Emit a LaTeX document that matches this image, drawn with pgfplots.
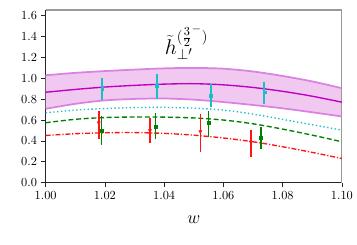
\documentclass[border=0pt]{standalone}
\usepackage{pgfplots}
\pgfplotsset{compat=1.18}
\usepackage{pgfplotstable}
\usepgfplotslibrary{fillbetween}
\definecolor{bandfill}{RGB}{241,200,240}
\definecolor{bandedge}{RGB}{214,120,224}
\definecolor{central}{RGB}{190,0,190}
\definecolor{mycyan}{RGB}{25,190,200}
\definecolor{mygreen}{RGB}{0,128,0}
\definecolor{myred}{RGB}{255,20,20}

\pgfplotstableread{
x y
1.00 0.866
1.01 0.893
1.02 0.916
1.03 0.932
1.04 0.944
1.05 0.948
1.06 0.937
1.07 0.912
1.08 0.875
1.09 0.828
1.10 0.771
}\tabcentral
\pgfplotstableread{
x y
1.00 1.029
1.01 1.052
1.02 1.069
1.03 1.083
1.04 1.095
1.05 1.099
1.06 1.092
1.07 1.065
1.08 1.022
1.09 0.970
1.10 0.905
}\tabupper
\pgfplotstableread{
x y
1.00 0.707
1.01 0.755
1.02 0.788
1.03 0.802
1.04 0.806
1.05 0.795
1.06 0.772
1.07 0.744
1.08 0.712
1.09 0.674
1.10 0.634
}\tablower
\pgfplotstableread{
x y
1.00 0.669
1.01 0.695
1.02 0.710
1.03 0.719
1.04 0.721
1.05 0.714
1.06 0.695
1.07 0.657
1.08 0.606
1.09 0.555
1.10 0.503
}\tabcyanline
\pgfplotstableread{
x y
1.00 0.574
1.01 0.607
1.02 0.624
1.03 0.629
1.04 0.628
1.05 0.620
1.06 0.600
1.07 0.564
1.08 0.513
1.09 0.455
1.10 0.392
}\tabgreenline
\pgfplotstableread{
x y
1.00 0.452
1.01 0.469
1.02 0.478
1.03 0.480
1.04 0.472
1.05 0.455
1.06 0.428
1.07 0.392
1.08 0.344
1.09 0.290
1.10 0.232
}\tabredline
\pgfplotstableread{
x y ep em
1.0191 0.902 0.102 0.112
1.0376 0.924 0.121 0.121
1.0558 0.837 0.111 0.110
1.0738 0.866 0.100 0.117
}\tabcyanpts
\pgfplotstableread{
x y ep em
1.0179 0.574 0.117 0.160
1.0352 0.500 0.121 0.124
1.0522 0.490 0.170 0.200
1.0693 0.388 0.112 0.139
}\tabredpts
\pgfplotstableread{
x y ep em
1.0189 0.494 0.143 0.137
1.0371 0.538 0.125 0.124
1.0550 0.574 0.117 0.138
1.0727 0.430 0.105 0.112
}\tabgreenpts

\begin{document}
\begin{tikzpicture}
\begin{axis}[
  scale only axis,
  width=240pt, height=140pt,
  xmin=1.0, xmax=1.1, ymin=0, ymax=1.655,
  axis lines*=left,
  axis line style={line width=0.7pt, black!85},
  tick align=outside,
  major tick length=3.5pt,
  tick style={black!85, line width=0.6pt},
  xtick={1.00,1.02,1.04,1.06,1.08,1.10},
  ytick={0,0.2,0.4,0.6,0.8,1.0,1.2,1.4,1.6},
  xticklabel style={/pgf/number format/.cd, fixed, fixed zerofill, precision=2},
  yticklabel style={/pgf/number format/.cd, fixed, fixed zerofill, precision=1},
  xlabel={\Large $w$},
  xlabel style={at={(axis description cs:0.5,0)}, anchor=center, yshift=-30pt},
  clip=true,
]
\draw[gray!80, line width=1.1pt] (rel axis cs:0,1) -- (rel axis cs:1,1) -- (rel axis cs:1,0);
\addplot[name path=up, bandedge, line width=1.4pt, smooth, opacity=0.9] table[x=x,y=y] {\tabupper};
\addplot[name path=lo, bandedge, line width=1.4pt, smooth, opacity=0.9] table[x=x,y=y] {\tablower};
\addplot[bandfill] fill between[of=up and lo];
\addplot[central, line width=1.1pt, smooth] table[x=x,y=y] {\tabcentral};
\addplot[mycyan, line width=1.1pt, dotted, smooth] table[x=x,y=y] {\tabcyanline};
\addplot[mygreen, line width=1.1pt, dash pattern=on 4pt off 2.2pt, smooth] table[x=x,y=y] {\tabgreenline};
\addplot[myred, line width=1.1pt, dash pattern=on 4pt off 1.5pt on 1pt off 1.5pt, smooth] table[x=x,y=y] {\tabredline};
\addplot[mycyan, only marks, mark=square*, mark size=1.2pt,
  error bars/.cd, y dir=both, y explicit, error mark=none,
  error bar style={line width=1.3pt, mycyan}]
  table[x=x,y=y,y error plus=ep,y error minus=em] {\tabcyanpts};
\addplot[myred, only marks, mark=triangle*, mark options={rotate=180}, mark size=1.5pt,
  error bars/.cd, y dir=both, y explicit, error mark=none,
  error bar style={line width=1.3pt, myred}]
  table[x=x,y=y,y error plus=ep,y error minus=em] {\tabredpts};
\addplot[mygreen, only marks, mark=square*, mark size=1.1pt,
  error bars/.cd, y dir=both, y explicit, error mark=none,
  error bar style={line width=1.3pt, mygreen}]
  table[x=x,y=y,y error plus=ep,y error minus=em] {\tabgreenpts};
\node at (axis cs:1.0475,1.34) {\LARGE $\widetilde{h}^{(\frac{3}{2}^-)}_{\perp'}$};
\end{axis}
\path ([shift={(-37pt,-50pt)}]current axis.south west) rectangle ([shift={(11pt,8pt)}]current axis.north east);
\end{tikzpicture}
\end{document}
